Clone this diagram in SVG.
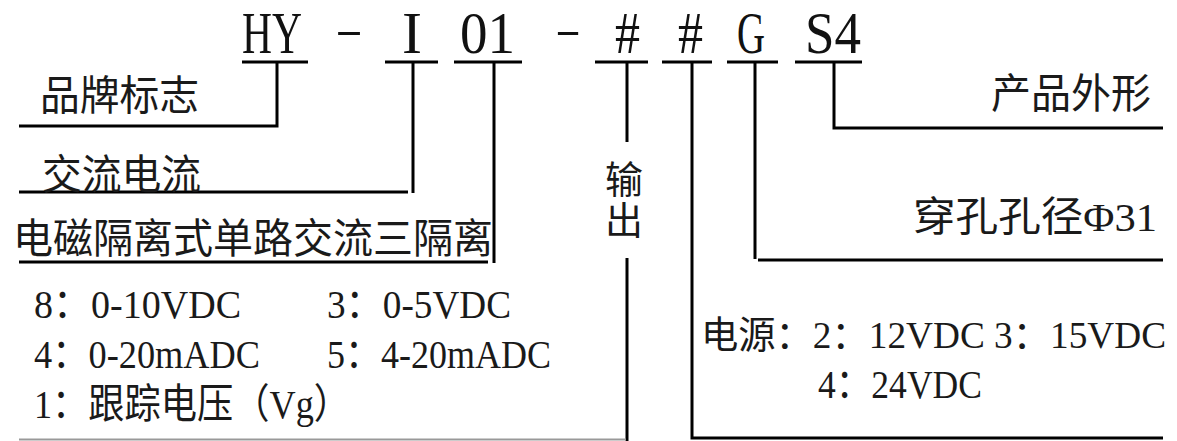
<svg xmlns="http://www.w3.org/2000/svg" width="1177" height="441" viewBox="0 0 1177 441">
<style>
.t{font-family:"Liberation Serif","Noto Sans CJK SC",serif;font-size:41px;fill:#1a1a1a}
.s{font-size:38px}
.h{font-family:"Liberation Serif","Noto Sans CJK SC",serif;font-size:59px;fill:#111}
.d{font-family:"Liberation Serif",serif;font-size:40px;fill:#111}
.c{stroke:#000;stroke-width:3;fill:none}
</style>
<rect width="1177" height="441" fill="#fff"/>
<g id="title">
<text class="h" x="242" y="53" textLength="60" lengthAdjust="spacingAndGlyphs">HY</text>
<text class="d" x="335" y="43" textLength="28" lengthAdjust="spacingAndGlyphs">-</text>
<text class="h" x="402" y="53" textLength="20" lengthAdjust="spacingAndGlyphs">I</text>
<text class="h" x="460" y="53" textLength="55" lengthAdjust="spacingAndGlyphs">01</text>
<text class="d" x="555" y="43" textLength="26" lengthAdjust="spacingAndGlyphs">-</text>
<text class="h" x="615" y="53" textLength="25" lengthAdjust="spacingAndGlyphs">#</text>
<text class="h" x="678" y="53" textLength="25" lengthAdjust="spacingAndGlyphs">#</text>
<text class="h" x="737" y="53" textLength="28" lengthAdjust="spacingAndGlyphs">G</text>
<text class="h" x="805" y="53" textLength="56" lengthAdjust="spacingAndGlyphs">S4</text>
</g>
<g id="connectors">
<path class="c" d="M242 62H308M385 62H438M454 62H522M595 62H648M662 62H712M727 62H778M795 62H862"/>
<path class="c" d="M277 62V126H19"/>
<path class="c" d="M413 62V193M408 192H19"/>
<path class="c" d="M494 62V263M488 262H19"/>
<path class="c" d="M627 62V142M627 258V441"/>
<path d="M19 439.5H626" stroke="#999" stroke-width="2"/>
<path class="c" d="M692 62V438H1163"/>
<path class="c" d="M755 62V259M758 260H1163"/>
<path class="c" d="M834 62V128H1163"/>
</g>
<g id="brand"><text class="t" x="40" y="110" textLength="159" lengthAdjust="spacingAndGlyphs">品牌标志</text></g>
<g id="ac"><text class="t" x="42" y="189" textLength="159" lengthAdjust="spacingAndGlyphs">交流电流</text></g>
<g id="type"><text class="t" x="13" y="253" textLength="480" lengthAdjust="spacingAndGlyphs">电磁隔离式单路交流三隔离</text></g>
<g id="outputs">
<text class="t" x="34" y="318" textLength="207" lengthAdjust="spacingAndGlyphs">8：0-10VDC</text>
<text class="t" x="327" y="318" textLength="184" lengthAdjust="spacingAndGlyphs">3：0-5VDC</text>
<text class="t" x="34" y="368" textLength="226" lengthAdjust="spacingAndGlyphs">4：0-20mADC</text>
<text class="t" x="327" y="368" textLength="224" lengthAdjust="spacingAndGlyphs">5：4-20mADC</text>
<text class="t" x="34" y="418" textLength="316" lengthAdjust="spacingAndGlyphs">1：跟踪电压（Vg）</text>
</g>
<g id="output-label">
<text class="t s" x="605" y="193">输</text>
<text class="t s" x="605" y="234">出</text>
</g>
<g id="shape"><text class="t" x="991" y="108" textLength="160" lengthAdjust="spacingAndGlyphs">产品外形</text></g>
<g id="hole"><text class="t" x="913" y="231" textLength="244" lengthAdjust="spacingAndGlyphs">穿孔孔径Φ31</text></g>
<g id="power">
<text class="t s" x="701" y="348" textLength="465" lengthAdjust="spacingAndGlyphs">电源：2：12VDC 3：15VDC</text>
<text class="t" x="818" y="398" textLength="164" lengthAdjust="spacingAndGlyphs">4：24VDC</text>
</g>
</svg>
